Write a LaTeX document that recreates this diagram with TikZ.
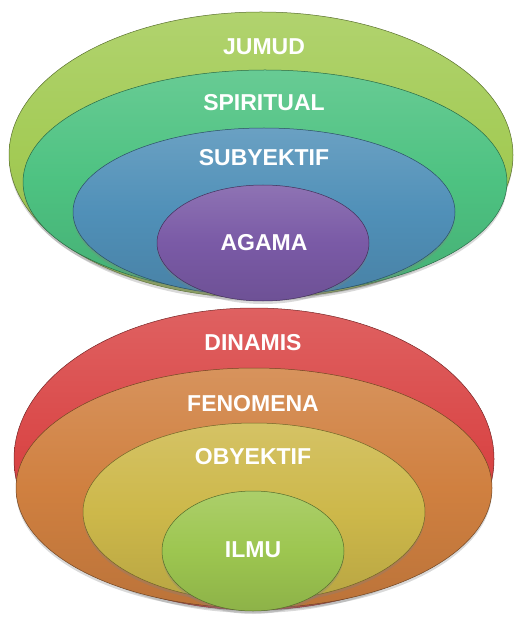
\documentclass[tikz,border=0pt]{standalone}
\usepackage{fontspec}
\setmainfont{Liberation Sans}
\usepackage{xcolor}
\usetikzlibrary{shadows}

\definecolor{jumudC}{HTML}{A3CB55}
\definecolor{spiritualC}{HTML}{4DC281}
\definecolor{subyektifC}{HTML}{5090B8}
\definecolor{agamaC}{HTML}{7A5AA6}
\definecolor{dinamisC}{HTML}{D94545}
\definecolor{fenomenaC}{HTML}{D08040}
\definecolor{obyektifC}{HTML}{CDB84A}
\definecolor{ilmuC}{HTML}{9DC650}

\begin{document}
\begin{tikzpicture}[x=1pt, y=-1pt,
	ring/.style={draw=#1!55!black, line width=0.5pt,
		top color=#1!85!white, bottom color=#1!90!black, middle color=#1,
		drop shadow={opacity=0.3, shadow xshift=0pt, shadow yshift=-3pt}},
	ringtext/.style={text=white, font=\bfseries\fontsize{23}{23}\selectfont}]
	\useasboundingbox (0,0) rectangle (515,617);

	% lower stack
	\begin{scope}
		\path[ring=dinamisC] (254,459) ellipse [x radius=240, y radius=151];
		\path[ring=fenomenaC] (254,488) ellipse [x radius=238, y radius=120];
		\path[ring=obyektifC] (254,512) ellipse [x radius=171, y radius=89];
		\path[ring=ilmuC] (253,551) ellipse [x radius=91, y radius=60];

		\node[ringtext] (dinamis) at (253,343) {DINAMIS};
		\node[ringtext] (fenomena) at (253,404) {FENOMENA};
		\node[ringtext] (obyektif) at (253,457) {OBYEKTIF};
		\node[ringtext] (ilmu) at (253,550) {ILMU};
	\end{scope}

	% upper stack
	\begin{scope}
		\path[ring=jumudC] (261,155) ellipse [x radius=252, y radius=143];
		\path[ring=spiritualC] (265,182) ellipse [x radius=242, y radius=112];
		\path[ring=subyektifC] (264,212) ellipse [x radius=191, y radius=84];
		\path[ring=agamaC] (263,243) ellipse [x radius=106, y radius=58];

		\node[ringtext] (jumud) at (264,47) {JUMUD};
		\node[ringtext] (spiritual) at (264,103) {SPIRITUAL};
		\node[ringtext] (subyektif) at (264,158) {SUBYEKTIF};
		\node[ringtext] (agama) at (264,243) {AGAMA};
	\end{scope}
\end{tikzpicture}
\end{document}
